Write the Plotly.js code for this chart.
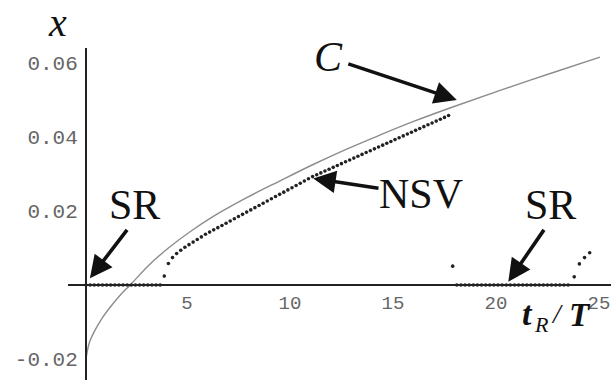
<!DOCTYPE html>
<html>
<head>
<meta charset="utf-8">
<script src="https://cdn.plot.ly/plotly-3.0.1.min.js"></script>
<style>html,body{margin:0;padding:0;background:#fff;}#chart{width:611px;height:380px;}</style>
</head>
<body>
<div id="chart"></div>
<script>
// Curve C
const curveT = [0, 0.15, 0.4, 0.8, 1.2, 1.7, 2.2, 3.0, 4.0, 5.0, 6.2, 7.8, 9.4, 11.0, 12.6, 14.3, 15.9, 17.8, 20.0, 22.5, 24.95];
const curveX = [-0.0200, -0.0158, -0.0126, -0.0088, -0.0058, -0.0025, 0.0003, 0.0051, 0.0100, 0.0142, 0.0186, 0.0236, 0.0281, 0.0325, 0.0366, 0.0406, 0.0442, 0.0481, 0.0524, 0.0571, 0.0616];

// SR points (left group, on the axis)
const srLeftT = [0, 0.2, 0.4, 0.6, 0.8, 1.0, 1.2, 1.4, 1.6, 1.8, 2.0, 2.2, 2.4, 2.6, 2.8, 3.0, 3.2, 3.4, 3.6];
const srLeftX = [0, 0, 0, 0, 0, 0, 0, 0, 0, 0, 0, 0, 0, 0, 0, 0, 0, 0, 0];

// NSV points
const nsvT = [3.8, 4.0, 4.2, 4.4, 4.6, 4.8, 5.0, 5.2, 5.4, 5.6, 5.8, 6.0, 6.2, 6.4, 6.6, 6.8, 7.0, 7.2, 7.4, 7.6,
              7.8, 8.0, 8.2, 8.4, 8.6, 8.8, 9.0, 9.2, 9.4, 9.6, 9.8, 10.0, 10.2, 10.4, 10.6, 10.8, 11.0, 11.2, 11.4, 11.6,
              11.8, 12.0, 12.2, 12.4, 12.6, 12.8, 13.0, 13.2, 13.4, 13.6, 13.8, 14.0, 14.2, 14.4, 14.6, 14.8, 15.0, 15.2, 15.4, 15.6,
              15.8, 16.0, 16.2, 16.4, 16.6, 16.8, 17.0, 17.2, 17.4, 17.6];
const nsvX = [0.0024, 0.0058, 0.0074, 0.0085, 0.0094, 0.0102, 0.0109, 0.0116, 0.0123, 0.0130, 0.0137, 0.0143, 0.0149, 0.0155, 0.0161, 0.0167, 0.0173, 0.0179, 0.0185, 0.0191,
              0.0197, 0.0203, 0.0209, 0.0215, 0.0221, 0.0227, 0.0233, 0.0239, 0.0245, 0.0251, 0.0257, 0.0263, 0.0269, 0.0275, 0.0281, 0.0287, 0.0293, 0.0298, 0.0303, 0.0308,
              0.0313, 0.0318, 0.0323, 0.0328, 0.0333, 0.0338, 0.0343, 0.0348, 0.0353, 0.0358, 0.0363, 0.0368, 0.0373, 0.0378, 0.0383, 0.0388, 0.0393, 0.0398, 0.0403, 0.0408,
              0.0413, 0.0418, 0.0423, 0.0428, 0.0433, 0.0438, 0.0443, 0.0448, 0.0453, 0.0458];

// isolated point
const isoT = [17.8];
const isoX = [0.0051];

// SR points (right group, on the axis)
const srRightT = [18.0, 18.2, 18.4, 18.6, 18.8, 19.0, 19.2, 19.4, 19.6, 19.8, 20.0, 20.2, 20.4, 20.6, 20.8, 21.0, 21.2, 21.4, 21.6, 21.8, 22.0, 22.2, 22.4, 22.6, 22.8, 23.0, 23.2, 23.4];
const srRightX = [0, 0, 0, 0, 0, 0, 0, 0, 0, 0, 0, 0, 0, 0, 0, 0, 0, 0, 0, 0, 0, 0, 0, 0, 0, 0, 0, 0];

// rising points at the end
const riseT = [23.7, 23.95, 24.2, 24.45];
const riseX = [0.0022, 0.0057, 0.0074, 0.0087];

// tick labels
const xTickVals = [5, 10, 15, 20, 25];
const xTickText = ['5', '10', '15', '20', '25'];
const yTickVals = [-0.02, 0.02, 0.04, 0.06];
const yTickText = ['-0.02', '0.02', '0.04', '0.06'];

const dotT = [].concat(srLeftT, nsvT, isoT, srRightT, riseT);
const dotX = [].concat(srLeftX, nsvX, isoX, srRightX, riseX);

const traces = [
  {x: curveT, y: curveX, type: 'scatter', mode: 'lines', line: {color: '#8c8c8c', width: 1.4, shape: 'spline'}, hoverinfo: 'skip'},
  {x: dotT, y: dotX, type: 'scatter', mode: 'markers', marker: {color: '#222', size: 3.6}, hoverinfo: 'skip', cliponaxis: false}
];

const serif = 'Liberation Serif, Times New Roman, serif';
function arrow(hx, hy, tx, ty) {
  return {x: hx, y: hy, ax: tx, ay: ty, xref: 'x', yref: 'y', axref: 'x', ayref: 'y',
          text: '', showarrow: true, arrowhead: 2, arrowsize: 1.25, arrowwidth: 3.6, arrowcolor: '#111', standoff: 0};
}
function label(x, y, txt, size) {
  return {x: x, y: y, xref: 'x', yref: 'y', text: txt, showarrow: false,
          font: {family: serif, size: size, color: '#111'}, xanchor: 'center', yanchor: 'middle'};
}

const layout = {
  width: 611, height: 380,
  margin: {l: 68, r: 0, t: 48, b: 0, pad: 0},
  paper_bgcolor: '#fff', plot_bgcolor: '#fff',
  showlegend: false,
  xaxis: {range: [-0.8738, 25.485], anchor: 'free', position: 0.2861, showline: true, linecolor: '#222', linewidth: 2,
          showgrid: false, zeroline: false, ticks: '', tickvals: xTickVals, ticktext: xTickText, ticklabeloverflow: 'allow',
          ticklabelshift: -2,
          tickfont: {family: 'Liberation Mono, DejaVu Sans Mono, monospace', size: 19, color: '#666'}, fixedrange: true},
  yaxis: {range: [-0.025676, 0.064054], anchor: 'free', position: 0.03315, showline: true, linecolor: '#222', linewidth: 2,
          showgrid: false, zeroline: false, ticks: '', tickvals: yTickVals, ticktext: yTickText, ticklabeloverflow: 'allow',
          ticklabelstandoff: 3,
          tickfont: {family: 'Liberation Mono, DejaVu Sans Mono, monospace', size: 21, color: '#666'}, fixedrange: true},
  annotations: [
    arrow(18.0, 0.0500, 12.66, 0.0599),
    arrow(11.03, 0.0288, 14.27, 0.0261),
    arrow(0.19, 0.0018, 2.05, 0.0153),
    arrow(20.5, 0.0009, 22.28, 0.0153),
    label(11.75, 0.0616, '<i>C</i>', 42),
    label(16.26, 0.0245, 'NSV', 42),
    label(2.33, 0.0217, 'SR', 42),
    label(22.57, 0.0217, 'SR', 42),
    {x: -0.02, y: 1.078, xref: 'paper', yref: 'paper', text: '<i>x</i>', showarrow: false,
     font: {family: serif, size: 40, color: '#111'}, xanchor: 'center', yanchor: 'middle'},
    // x-axis title t_R/T, set piece by piece
    label(21.41, -0.0076, '<b><i>t</i></b>', 34),
    label(22.09, -0.0106, '<i>R</i>', 22),
    label(22.86, -0.0078, '<i>/</i>', 28),
    label(24.0, -0.0082, '<b><i>T</i></b>', 33)
  ]
};

Plotly.newPlot('chart', traces, layout, {staticPlot: true, displayModeBar: false});
</script>
</body>
</html>
